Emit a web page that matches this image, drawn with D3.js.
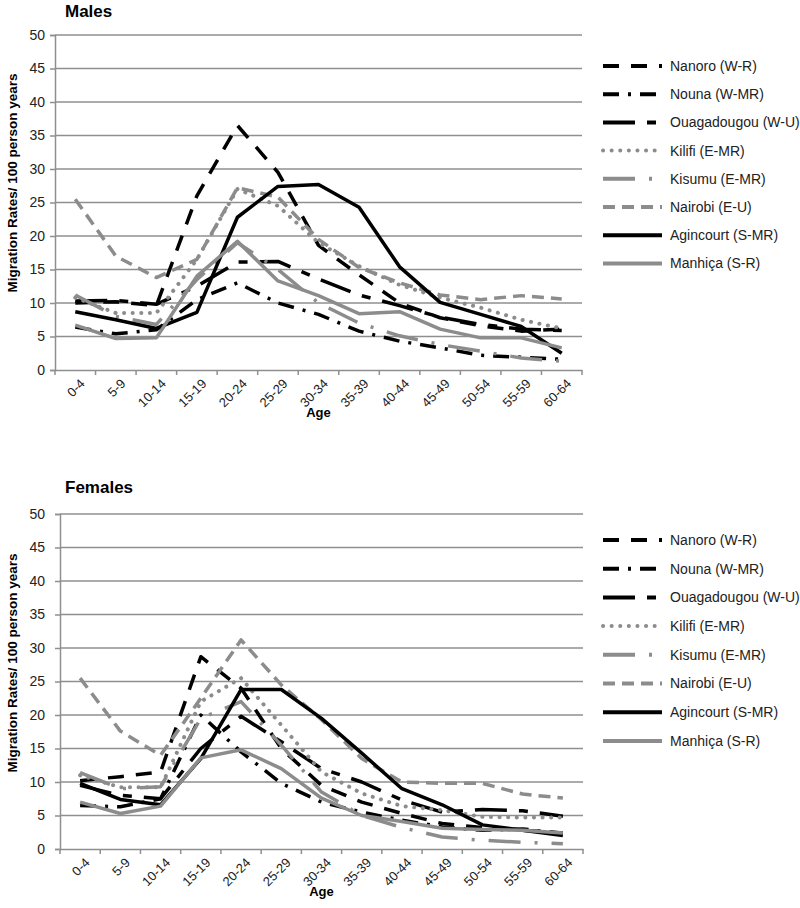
<!DOCTYPE html>
<html><head><meta charset="utf-8">
<script src="https://cdn.jsdelivr.net/npm/d3@7"></script>
<style>body{margin:0;background:#fff}svg{display:block;font-family:"Liberation Sans",Arial,sans-serif}</style>
</head><body><svg id="c" width="800" height="908"></svg>
<script>
const ages = ["0-4","5-9","10-14","15-19","20-24","25-29","30-34","35-39","40-44","45-49","50-54","55-59","60-64"];
const sites = ["Nanoro (W-R)","Nouna (W-MR)","Ouagadougou (W-U)","Kilifi (E-MR)","Kisumu (E-MR)","Nairobi (E-U)","Agincourt (S-MR)","Manhiça (S-R)"];
const yTicks = [0,5,10,15,20,25,30,35,40,45,50];

const malesNanoro      = [10.0,10.2,9.6,26,36.5,29.5,18.6,14.2,10,7.8,6.6,5.8,6.1];
const malesNouna       = [6.4,5.4,6.0,10.5,13.0,10.0,8.3,5.8,4.3,3.3,2.2,1.9,1.6];
const malesOuaga       = [10.3,10.4,9.8,12.5,16.1,16.2,13.6,11.2,9.6,7.9,6.8,6.1,5.9];
const malesKilifi      = [10.8,8.5,8.5,16.5,27,24.5,19,15.5,12.7,10.8,9.3,7.5,6.2];
const malesKisumu      = [11.2,8,6.8,13.5,19,15,10,7,5.1,3.8,2.8,1.8,1.3];
const malesNairobi     = [25.5,17,13.8,16.5,27.2,25.8,19.5,15.3,13,11.2,10.5,11.1,10.6];
const malesAgincourt   = [8.7,7.5,6.2,8.6,22.8,27.4,27.7,24.3,15.4,10.1,8.3,6.5,2.5];
const malesManhica     = [6.7,4.7,4.8,14,19.2,13.3,11.1,8.4,8.7,6.1,4.8,4.8,3.3];

const femalesNanoro    = [10.2,10.8,11.5,28.7,24,15,9.5,7,5.3,3.8,3.2,2.8,2.4];
const femalesNouna     = [6.5,6.3,7.5,20,14.5,9.8,7,5.5,4.3,3.3,2.8,3.0,2.3];
const femalesOuaga     = [9.5,8,7.5,15,19.8,16,12,10,7.3,5.5,5.9,5.7,4.9];
const femalesKilifi    = [11,9.2,9.2,22,25.5,18.5,11.5,8.3,6.4,5.8,4.8,4.7,4.7];
const femalesKisumu    = [11.4,9,9.3,19.5,22,15.5,8.5,5,3.2,1.8,1.3,1.0,0.8];
const femalesNairobi   = [25.5,17.6,14,22.5,31.2,24.5,19.3,13.5,10,9.8,9.8,8.2,7.6];
const femalesAgincourt = [9.8,7.4,6.6,13.5,23.8,23.8,19.5,14.3,9,6.6,3.6,2.8,2.0];
const femalesManhica   = [7,5.3,6.4,13.6,14.8,12,7.6,5,4.1,3.1,2.9,2.8,2.4];

const BLACK = "#000", GRAY = "#8c8c8c";
const styles = [
  {color:BLACK, dash:"16,12", cap:"butt"},
  {color:BLACK, dash:"16,9,3,9", cap:"butt"},
  {color:BLACK, dash:"32,12,9,12", cap:"butt"},
  {color:GRAY, dash:"0.1,8.5", cap:"round"},
  {color:GRAY, dash:"32,14,3,14", cap:"butt"},
  {color:GRAY, dash:"12,7", cap:"butt"},
  {color:BLACK, dash:null, cap:"butt"},
  {color:GRAY, dash:null, cap:"butt"}
];

const svg = d3.select("#c");

function panel(cfg){
  const g = svg.append("g");
  const x = d3.scaleBand().domain(ages).range([cfg.left, cfg.right]);
  const y = d3.scaleLinear().domain([0,50]).range([cfg.bottom, cfg.top]);

  g.append("text").attr("x",65).attr("y",cfg.titleY).attr("font-size",17).attr("font-weight","bold").text(cfg.title);

  g.append("g").selectAll("line").data(yTicks.filter(d=>d>0)).join("line")
    .attr("x1",cfg.left).attr("x2",cfg.right).attr("y1",d=>y(d)).attr("y2",d=>y(d))
    .attr("stroke","#8f8f8f").attr("stroke-width",1.5);

  const ya = g.append("g").attr("transform",`translate(${cfg.left},0)`)
    .call(d3.axisLeft(y).tickValues(yTicks).tickSize(5).tickPadding(cfg.left-50));
  ya.select(".domain").attr("stroke","#8f8f8f").attr("stroke-width",1.5);
  ya.selectAll(".tick line").attr("stroke","#8f8f8f").attr("stroke-width",1.5);
  ya.selectAll("text").attr("font-size",14).attr("fill","#222").attr("font-family","Liberation Sans, Arial, sans-serif");

  const xa = g.append("g").attr("transform",`translate(0,${cfg.bottom})`)
    .call(d3.axisBottom(x).tickSize(0).tickFormat(""));
  xa.select(".domain").attr("stroke","#8f8f8f").attr("stroke-width",1.5);
  const bounds = ages.map(a=>x(a)).concat([cfg.right]);
  g.append("g").selectAll("line").data(bounds).join("line")
    .attr("x1",d=>d).attr("x2",d=>d).attr("y1",cfg.bottom).attr("y2",cfg.bottom+5)
    .attr("stroke","#8f8f8f").attr("stroke-width",1.5);
  g.append("g").selectAll("text").data(ages).join("text")
    .attr("transform",d=>`translate(${x(d)+x.bandwidth()/2+4},${cfg.bottom+8}) rotate(-45)`)
    .attr("text-anchor","end").attr("dy","0.7em").attr("font-size",13).attr("fill","#222").text(d=>d);

  g.append("text").attr("x",(cfg.left+cfg.right)/2).attr("y",cfg.bottom+47)
    .attr("text-anchor","middle").attr("font-size",13).attr("font-weight","bold").text("Age");
  g.append("text").attr("transform",`translate(17,${cfg.yTitleY}) rotate(-90)`)
    .attr("text-anchor","middle").attr("font-size",13.5).attr("font-weight","bold").text("Migration Rates/ 100 person years");

  const line = d3.line().x((d,i)=>x(ages[i])+x.bandwidth()/2).y(d=>y(d));
  cfg.series.forEach((s,i)=>{
    const st = styles[i];
    g.append("path").datum(s).attr("d",line).attr("fill","none")
      .attr("stroke",st.color).attr("stroke-width",st.cap==="round"?4:3.5)
      .attr("stroke-dasharray",st.dash).attr("stroke-linecap",st.cap).attr("stroke-linejoin","round");
  });

  const lg = g.append("g");
  sites.forEach((name,i)=>{
    const st = styles[i];
    const ly = cfg.legendY + i*cfg.legendStep;
    lg.append("line").attr("x1",603).attr("x2",662).attr("y1",ly).attr("y2",ly)
      .attr("stroke",st.color).attr("stroke-width",4)
      .attr("stroke-dasharray",st.dash).attr("stroke-linecap",st.cap);
    lg.append("text").attr("x",670).attr("y",ly).attr("dy","0.35em").attr("font-size",14).attr("fill","#222").text(name);
  });
}

panel({title:"Males", titleY:17, left:55, right:582, top:35, bottom:370, yTitleY:183, legendY:66, legendStep:28.2,
  series:[malesNanoro,malesNouna,malesOuaga,malesKilifi,malesKisumu,malesNairobi,malesAgincourt,malesManhica]});
panel({title:"Females", titleY:493, left:60, right:583, top:514, bottom:849, yTitleY:663, legendY:540, legendStep:28.7,
  series:[femalesNanoro,femalesNouna,femalesOuaga,femalesKilifi,femalesKisumu,femalesNairobi,femalesAgincourt,femalesManhica]});
</script></body></html>
